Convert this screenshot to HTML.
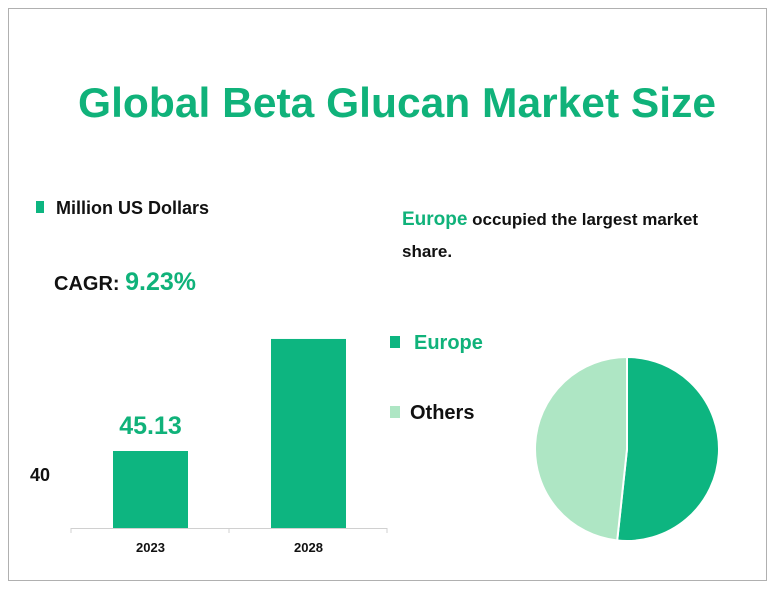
<!DOCTYPE html>
<html><head><meta charset="utf-8">
<style>
body{margin:0;width:776px;height:599px;background:#fff;font-family:"Segoe UI","Liberation Sans","DejaVu Sans",sans-serif;overflow:hidden}
svg{display:block}
</style></head>
<body>
<svg width="776" height="599">
<rect x="8.5" y="8.5" width="758" height="572" fill="none" stroke="#b0b0b0"/>
<text x="397" y="117" text-anchor="middle" font-size="42" font-weight="bold" fill="#10b27a" font-family="Liberation Sans, sans-serif" textLength="638" lengthAdjust="spacingAndGlyphs">Global Beta Glucan Market Size</text>
<rect x="36" y="201" width="8" height="12" fill="#0db580"/>
<text x="56" y="214" font-size="18" font-weight="bold" fill="#111" font-family="Liberation Sans, sans-serif">Million US Dollars</text>
<text x="54" y="290" font-size="20" font-weight="bold" fill="#111" font-family="Liberation Sans, sans-serif">CAGR: <tspan fill="#10b27a" font-size="25">9.23%</tspan></text>
<text x="30" y="481" font-size="18" font-weight="bold" fill="#111" font-family="Liberation Sans, sans-serif">40</text>
<g id="bars"></g>
<text x="402" y="225" font-size="17" font-weight="bold" fill="#111" font-family="Liberation Sans, sans-serif"><tspan fill="#10b27a" font-size="19">Europe</tspan> occupied the largest market</text>
<text x="402" y="257" font-size="17" font-weight="bold" fill="#111" font-family="Liberation Sans, sans-serif">share.</text>
<rect x="390" y="336" width="10" height="12" fill="#0db580"/>
<text x="414" y="349" font-size="20" font-weight="bold" fill="#10b27a" font-family="Liberation Sans, sans-serif">Europe</text>
<rect x="390" y="406" width="10" height="12" fill="#aee6c4"/>
<text x="410" y="419" font-size="20" font-weight="bold" fill="#111" font-family="Liberation Sans, sans-serif">Others</text>
<g id="pie"></g>
</svg>
<script>
const categories=["2023","2028"];
const values=[45.13,110.8];
const labels=["45.13",""];
const pieNames=["Europe","Others"];
const pieValues=[51.7,48.3];
const NS="http://www.w3.org/2000/svg";
function mk(t,a,p){const e=document.createElementNS(NS,t);for(const k in a)e.setAttribute(k,a[k]);p.appendChild(e);return e;}
const g=document.getElementById('bars');
const base=528, scale=77/45.13;
function y(v){return base-v*scale;}
function x(i){return 71+158*i+42;}
const ax=mk('line',{x1:71,y1:base+0.5,x2:387,y2:base+0.5,stroke:'#d0d0d0'},g);


[0,1,2].forEach(i=>{const t=mk('line',{x1:71+158*i,y1:base,x2:71+158*i,y2:base+5,stroke:'#d0d0d0'},g);

});
categories.forEach((c,i)=>{
const r=mk('rect',{x:x(i),y:y(values[i]),width:75,height:base-y(values[i]),fill:'#0db580'},g);


const t=mk('text',{x:x(i)+37.5,y:552,'text-anchor':'middle','font-size':13,'font-weight':'bold',fill:'#111','font-family':'Liberation Sans, sans-serif'},g);
t.textContent=c;


if(labels[i]){const l=mk('text',{x:x(i)+37.5,y:y(values[i])-17,'text-anchor':'middle','font-size':25,'font-weight':'bold',fill:'#10b27a','font-family':'Liberation Sans, sans-serif'},g);
l.textContent=labels[i];

}
});
const pg=document.getElementById('pie');
const cx=627,cy=449,R=92,cols=["#0db580","#aee6c4"];
const tot=pieValues.reduce((a,b)=>a+b,0);let a0=0;
pieValues.forEach((v,i)=>{const a1=a0+v/tot*2*Math.PI;
const p=(a)=>[cx+R*Math.sin(a),cy-R*Math.cos(a)];
const [x0,y0]=p(a0),[x1,y1]=p(a1);
const s=mk('path',{d:`M${cx},${cy}L${x0},${y0}A${R},${R} 0 ${a1-a0>Math.PI?1:0} 1 ${x1},${y1}Z`,fill:cols[i],stroke:'#fff','stroke-width':2},pg);


a0=a1;});
</script>
</body></html>
